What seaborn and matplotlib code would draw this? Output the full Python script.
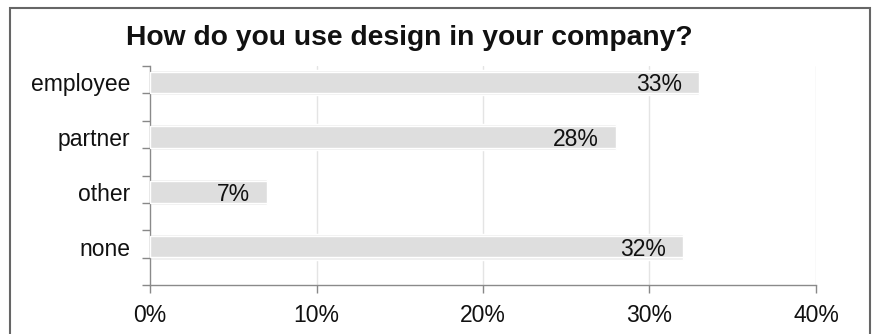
import numpy as np
import pandas as pd
import matplotlib
matplotlib.use("Agg")
import matplotlib.pyplot as plt
import seaborn as sns
from matplotlib.patches import Rectangle

# Survey answers and their shares (percent)
categories = ["employee", "partner", "other", "none"]
shares = [33, 28, 7, 32]
x_ticks = [0, 10, 20, 30, 40]
x_tick_labels = ["0%", "10%", "20%", "30%", "40%"]
title = "How do you use design in your company?"

sns.set_theme(style="white")
plt.rcParams["font.family"] = ["Liberation Sans", "DejaVu Sans"]

df = pd.DataFrame({"answer": categories, "share": shares})

fig = plt.figure(figsize=(8.78, 3.34), dpi=100)
ax = fig.add_axes([150 / 878, 49 / 334, 666 / 878, 219 / 334])

# soft outer halo, then the bar body
sns.barplot(data=df, y="answer", x="share", orient="h", order=categories,
            color="#ededed", width=0.47, saturation=1, ax=ax, zorder=2)
sns.barplot(data=df, y="answer", x="share", orient="h", order=categories,
            color="#dedede", width=0.39, saturation=1, ax=ax, zorder=3)

ax.set_xlim(0, 40)
ax.set_ylim(3.7, -0.3)
ax.set_xlabel("")
ax.set_ylabel("")

# vertical gridlines
for gx in x_ticks[1:]:
    ax.axvline(gx, color="#e4e4e4", lw=1.0, zorder=1)

ax.set_xticks(x_ticks)
ax.set_xticklabels(x_tick_labels, fontsize=16.5, color="#111111")
ax.tick_params(axis="x", which="major", length=6, width=1, color="#888888",
               direction="out", pad=8, bottom=True)

ax.set_yticks(range(len(categories)))
ax.set_yticklabels(categories, fontsize=16.5, color="#111111")
ax.set_yticks(np.arange(-0.3, 3.71, 0.5), minor=True)
ax.tick_params(axis="y", which="major", length=0, pad=14)
ax.tick_params(axis="y", which="minor", length=6, width=1, color="#888888",
               direction="out", left=True)

for side in ["top", "right"]:
    ax.spines[side].set_visible(False)
for side in ["left", "bottom"]:
    ax.spines[side].set_color("#8a8a8a")
    ax.spines[side].set_linewidth(1.0)

# value labels at the end of each bar
for i, v in enumerate(shares):
    ax.annotate(f"{v}%", xy=(v, i), xytext=(-17, 0), textcoords="offset pixels",
                ha="right", va="center_baseline", fontsize=16.5, color="#111111",
                zorder=5)

fig.text(409 / 878, 1 - 38 / 334, title, ha="center", va="center",
         fontsize=20.3, fontweight="bold", color="#111111")

# frame around the whole chart
fig.patches.append(Rectangle((10 / 878, -0.05), 860 / 878, 1.05 - 8 / 334,
                             transform=fig.transFigure, fill=False,
                             edgecolor="#666666", lw=1.5))

fig.savefig("out.png", dpi=100)
